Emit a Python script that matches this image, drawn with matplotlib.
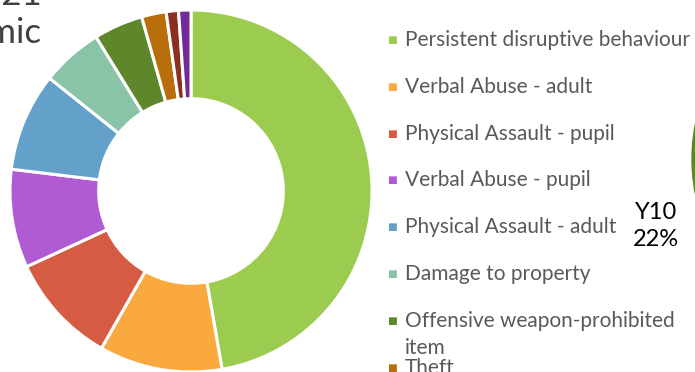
import matplotlib
matplotlib.use("Agg")
import matplotlib.pyplot as plt
from matplotlib.patches import Wedge

# Exclusion reasons and counts (donut, clockwise from 12 o'clock)
reasons = [
    "Persistent disruptive behaviour",
    "Verbal Abuse - adult",
    "Physical Assault - pupil",
    "Verbal Abuse - pupil",
    "Physical Assault - adult",
    "Damage to property",
    "Offensive weapon-prohibited\nitem",
    "Theft",
    "Drug and alcohol related",
    "Racist abuse",
]
counts = [43, 10, 9, 8, 8, 5, 4, 2, 1, 1]
colors = ["#9BCC50", "#F9A93D", "#D55C43", "#B05AD3", "#63A1CB",
          "#89C4A8", "#5E862A", "#B86E0B", "#8A2F22", "#72299A"]

title_lines = ["2020-21", "Academic"]
year_label = "Y10"
year_share = "22%"

W, H = 695, 372
fig = plt.figure(figsize=(W / 100, H / 100), dpi=100)

# main donut
cx, cy, r = 191, 191, 181
ax = fig.add_axes([(cx - r) / W, (H - cy - r) / H, 2 * r / W, 2 * r / H])
ax.pie(counts, colors=colors, startangle=90, counterclock=False, radius=1,
       wedgeprops=dict(width=0.49, edgecolor="white", linewidth=2.2))
ax.set_xlim(-1, 1)
ax.set_ylim(-1, 1)
ax.set_aspect("equal")
ax.axis("off")

# legend drawn as markers + text
font = "Lato"
legend_x, marker_x = 405, 392
y0, step = 40, 46.8
for i, (lab, col) in enumerate(zip(reasons, colors)):
    y = y0 + i * step
    fig.text(marker_x / W, 1 - y / H, "\u25a0", color=col, fontsize=7.5,
             ha="center", va="center", family="DejaVu Sans")
    for j, line in enumerate(lab.split("\n")):
        fig.text(legend_x / W, 1 - (y + j * 27) / H, line, color="#595959",
                 fontsize=15, family=font, ha="left", va="center")

# heading at top-left
for j, line in enumerate(title_lines):
    fig.text(42 / W, 1 - (-5 + j * 38) / H, line, color="#404040",
             fontsize=25, family=font, ha="right", va="center")

# neighbouring year chart on the right
fig.text(656 / W, 1 - 212 / H, year_label, color="black", fontsize=17,
         family=font, ha="center", va="center")
fig.text(656 / W, 1 - 240 / H, year_share, color="black", fontsize=17,
         family=font, ha="center", va="center")
ax2 = fig.add_axes([0, 0, 1, 1])
ax2.set_xlim(0, W)
ax2.set_ylim(H, 0)
ax2.axis("off")
ax2.add_patch(Wedge((872, 159), 180, 150, 210, color="#5E862A"))

fig.savefig("out.png", dpi=100, facecolor="white")
